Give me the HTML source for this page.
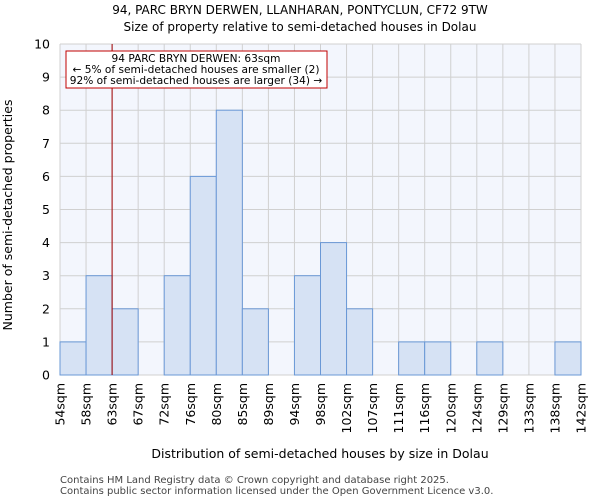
<!DOCTYPE html>
<html><head><meta charset="utf-8"><style>body{margin:0;background:#fff;font-family:"DejaVu Sans","Liberation Sans",sans-serif}</style></head>
<body>
<svg id="chart" width="600" height="500" xmlns="http://www.w3.org/2000/svg" font-family="DejaVu Sans, Liberation Sans, sans-serif">
<text x="300" y="14" font-size="12" text-anchor="middle">94, PARC BRYN DERWEN, LLANHARAN, PONTYCLUN, CF72 9TW</text>
<text x="300" y="31" font-size="12" text-anchor="middle">Size of property relative to semi-detached houses in Dolau</text>
<rect x="60" y="44" width="521" height="331" fill="#f3f6fd"/>
<g id="grid"></g><g id="bars"></g><g id="axes"></g>
<text x="320" y="458" font-size="12.5" text-anchor="middle">Distribution of semi-detached houses by size in Dolau</text>
<text transform="translate(12,215) rotate(-90)" font-size="12.5" text-anchor="middle">Number of semi-detached properties</text>
<text x="60" y="483" font-size="10" fill="#444">Contains HM Land Registry data © Crown copyright and database right 2025.</text>
<text x="60" y="494" font-size="10" fill="#444">Contains public sector information licensed under the Open Government Licence v3.0.</text>
</svg>
<script>
const binLabels=["54sqm","58sqm","63sqm","67sqm","72sqm","76sqm","80sqm","85sqm","89sqm","94sqm","98sqm","102sqm","107sqm","111sqm","116sqm","120sqm","124sqm","129sqm","133sqm","138sqm","142sqm"];
const counts=[1,3,2,0,3,6,8,2,0,3,4,2,0,1,1,0,1,0,0,1];
const yTicks=[0,1,2,3,4,5,6,7,8,9,10];
const markerIndex=2;
const NS="http://www.w3.org/2000/svg";
const x0=60,x1=581,y0=375,y1=44,yMax=10;
const bw=(x1-x0)/counts.length;
const xs=i=>x0+i*bw;
const ys=v=>y0-(v/yMax)*(y0-y1);
function mk(p,t,a){const e=document.createElementNS(NS,t);for(const k in a)e.setAttribute(k,a[k]);p.appendChild(e);return e;}
const grid=document.getElementById('grid'),bars=document.getElementById('bars'),axes=document.getElementById('axes');
yTicks.forEach(t=>{
  const l=mk(grid,'line',{x1:x0,x2:x1,y1:ys(t),y2:ys(t),stroke:'#d0d0d0','stroke-width':1});
  
  
  const tx=mk(axes,'text',{x:x0-10,y:ys(t)+4.5,'font-size':12.5,'text-anchor':'end'});
  tx.textContent=t;
  
  
});
binLabels.forEach((lab,i)=>{
  const l=mk(grid,'line',{x1:xs(i),x2:xs(i),y1:y1,y2:y0,stroke:'#d0d0d0','stroke-width':1});
  
  
  const tx=mk(axes,'text',{transform:`translate(${xs(i)+4.5},${y0+8}) rotate(-90)`,'font-size':12.5,'text-anchor':'end'});
  tx.textContent=lab;
  
  
});
counts.forEach((c,i)=>{
  if(c<=0)return;
  const r=mk(bars,'rect',{x:xs(i),y:ys(c),width:bw,height:y0-ys(c),fill:'#d6e2f4',stroke:'#6a98d6','stroke-width':1});
  
  
});
const ml=mk(axes,'line',{x1:xs(markerIndex),x2:xs(markerIndex),y1:y1,y2:y0,stroke:'#a00000','stroke-width':1});


const box=mk(axes,'rect',{x:66,y:51,width:261,height:37,fill:'#fff',stroke:'#c00000','stroke-width':1});


["94 PARC BRYN DERWEN: 63sqm","← 5% of semi-detached houses are smaller (2)","92% of semi-detached houses are larger (34) →"].forEach((s,k)=>{
  const t=mk(axes,'text',{x:196,y:62+k*11,'font-size':10.6,'text-anchor':'middle'});
  t.textContent=s;
  
  
});
</script>
</body></html>
